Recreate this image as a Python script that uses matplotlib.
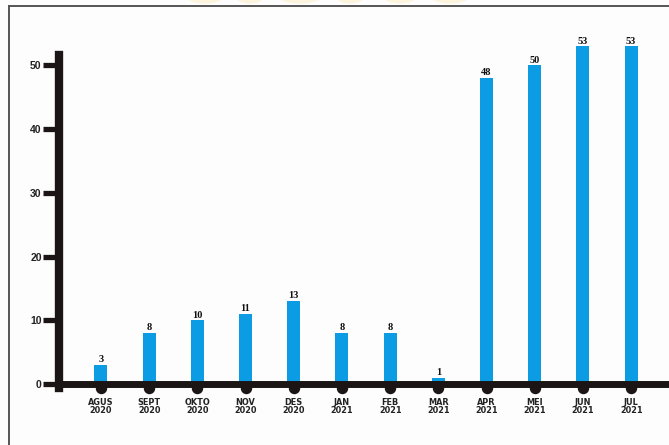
import numpy as np
import matplotlib
matplotlib.use("Agg")
import matplotlib.pyplot as plt
from matplotlib.lines import Line2D
from matplotlib.patches import Ellipse

months = ["AGUS", "SEPT", "OKTO", "NOV", "DES", "JAN",
          "FEB", "MAR", "APR", "MEI", "JUN", "JUL"]
years = ["2020", "2020", "2020", "2020", "2020", "2021",
         "2021", "2021", "2021", "2021", "2021", "2021"]
values = [3, 8, 10, 11, 13, 8, 8, 1, 48, 50, 53, 53]
yticks = [0, 10, 20, 30, 40, 50]

W, H = 669, 445
ink = "#1b1515"
blue = "#0c9ce4"

fig = plt.figure(figsize=(W / 100, H / 100), dpi=100)
fig.patch.set_facecolor("#fdfdfd")

# faint yellow logo bits peeking above the frame
for cx, w in [(205, 40), (250, 30), (300, 45), (350, 30), (400, 35), (450, 40)]:
    fig.add_artist(Ellipse((cx / W, 1.01), w / W, 16 / H, transform=fig.transFigure,
                           color="#fbeab5", alpha=0.45, lw=0))

# gray frame around the chart
fig.add_artist(Line2D([9 / W, 1.0], [1 - 6 / H, 1 - 6 / H], transform=fig.transFigure,
                      color="#555555", lw=1.4))
fig.add_artist(Line2D([9 / W, 9 / W], [0, 1 - 6 / H], transform=fig.transFigure,
                      color="#555555", lw=1.4))

ax = fig.add_axes([59 / W, (H - 384) / H, (W - 59) / W, 332 / H])
ax.set_facecolor("none")

x = np.arange(len(values))
ax.bar(x, values, width=0.27, color=blue, clip_on=False, zorder=2)
for xi, v in zip(x, values):
    ax.annotate(str(v), (xi, v), xytext=(0, 0.5), textcoords="offset points",
                ha="center", va="bottom", fontsize=7.5, fontweight="bold",
                family="Liberation Serif", color="#111111", annotation_clip=False)

# round markers hanging under the baseline
ax.plot(x, np.full(len(x), -0.6), "o", ms=7.2, color=ink, clip_on=False, zorder=4)

ax.set_xlim(-0.871, 11.785)
ax.set_ylim(0, 52.1)

for s in ["top", "right"]:
    ax.spines[s].set_visible(False)
ax.spines["left"].set_linewidth(6)
ax.spines["left"].set_color(ink)
ax.spines["left"].set_bounds(-0.7, 51.6)
ax.spines["bottom"].set_linewidth(5)
ax.spines["bottom"].set_color(ink)
ax.spines["left"].set_zorder(3)
ax.spines["bottom"].set_zorder(3)

ax.set_yticks(yticks)
ax.set_yticklabels([str(t) for t in yticks], fontsize=7.5, fontweight="bold",
                   family="Liberation Sans", color="#222222")
ax.tick_params(axis="y", length=11.5, width=3.8, color=ink, pad=1)

ax.set_xticks(x)
ax.set_xticklabels([f"{m}\n{y}" for m, y in zip(months, years)], fontsize=5.9,
                   fontweight="bold", family=["Liberation Sans Narrow", "DejaVu Sans"],
                   linespacing=0.85, color="#222222")
ax.tick_params(axis="x", length=0, pad=10)

fig.savefig("out.png", dpi=100, facecolor=fig.get_facecolor())
